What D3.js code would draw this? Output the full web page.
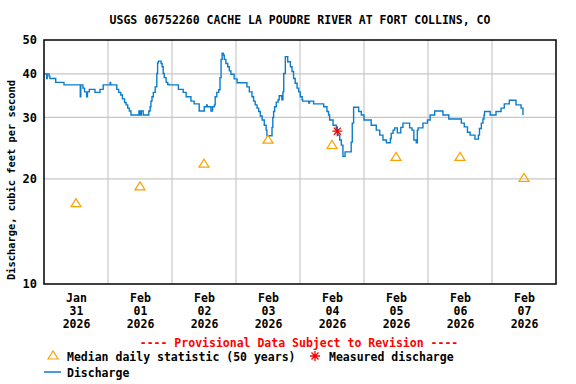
<!DOCTYPE html>
<html>
<head>
<meta charset="utf-8">
<script src="https://cdn.jsdelivr.net/npm/d3@7/dist/d3.min.js"></script>
<style>
  body { margin: 0; background: #fff; }
  svg text { font-family: "DejaVu Sans Mono", "Liberation Mono", monospace; font-weight: bold; }
</style>
</head>
<body>
<script>
// hours since 2026-01-31 00:00, step changes of the 15-minute discharge record
var flowHours = [0, 1.0, 1.2, 1.9, 2.2, 4.4, 7.5, 13.6, 13.8, 14.6, 15.2, 16.0, 16.3, 17.0, 19.1, 21.0, 22.2, 24.8, 25.0,
  27.3, 28.0, 28.8, 29.4, 30.2, 30.8, 31.4, 32.0, 32.6, 35.6, 36.0, 36.5, 37.2, 39.3, 39.8, 40.1, 40.5, 41.0, 41.7,
  42.3, 42.6, 42.9, 43.9, 44.3, 44.7, 45.1, 45.8, 46.4, 47.0, 50.4, 52.2, 53.3, 55.1, 56.3, 58.2, 60.1, 61.0, 61.2,
  62.6, 63.2, 63.9, 64.2, 64.8, 65.5, 66.0, 66.4, 66.8, 67.2, 67.6, 68.2, 68.9, 69.5, 70.1, 71.3, 72.4, 76.1, 77.0,
  78.0, 78.6, 79.2, 79.9, 80.5, 81.1, 81.8, 82.6, 83.3, 83.6, 85.5, 85.8, 86.1, 86.5, 87.1, 87.8, 88.2, 89.2, 89.6,
  89.9, 90.5, 91.4, 92.4, 93.0, 93.6, 94.2, 94.9, 95.5, 96.1, 96.8, 97.0, 99.3, 99.6, 101.1, 104.9, 106.1, 106.7,
  107.1, 108.4, 109.6, 110.3, 110.9, 111.5, 112.1, 112.9, 115.2, 115.6, 116.1, 118.0, 119.0, 120.0, 122.7, 124.6,
  125.9, 127.1, 128.4, 129.9, 130.2, 130.9, 131.5, 132.5, 133.8, 134.6, 137.1, 138.0, 138.7, 139.6, 140.0, 140.3,
  142.1, 143.8, 144.8, 146.5, 149.6, 151.8, 156.5, 157.6, 158.8, 159.8, 161.6, 162.9, 163.3, 164.0, 164.6, 165.0,
  165.2, 167.3, 169.5, 171.4, 172.6, 174.5, 177.0, 178.9, 179.6];
var flowCfs = [40.0, 38.8, 40.0, 39.4, 38.8, 37.8, 37.2, 34.4, 37.2, 36.4, 35.5, 34.4, 35.5, 36.1, 35.4, 36.1, 37.2, 37.8, 37.2,
  36.1, 35.4, 34.8, 33.9, 33.1, 32.6, 31.9, 31.3, 30.5, 31.3, 30.5, 31.3, 30.5, 31.3, 32.2, 33.4, 34.4, 35.4, 36.7,
  40.1, 43.0, 43.5, 42.8, 41.9, 40.1, 39.0, 37.8, 37.3, 37.2, 36.1, 35.4, 34.4, 33.4, 32.8, 31.3, 32.2, 32.6, 32.2,
  31.3, 32.2, 32.6, 34.4, 35.4, 36.0, 39.0, 44.0, 45.8, 45.3, 44.0, 42.8, 41.9, 40.8, 39.9, 38.7, 37.7, 36.7, 35.5,
  34.4, 33.4, 32.6, 31.9, 31.2, 30.3, 29.5, 28.5, 27.6, 26.6, 28.1, 30.0, 31.2, 32.2, 33.2, 33.7, 34.6, 33.7, 35.5,
  40.1, 44.8, 43.3, 41.9, 40.6, 38.8, 37.6, 36.4, 35.5, 34.4, 33.7, 33.4, 33.0, 33.4, 32.8, 32.2, 31.2, 30.5,
  29.5, 28.5, 27.6, 26.7, 25.85, 25.0, 23.2, 23.9, 25.5, 28.9, 32.1, 31.2, 30.5, 29.5, 28.5, 27.6,
  26.7, 25.85, 25.4, 26.1, 27.0, 27.6, 28.0, 27.1, 28.1, 28.9, 28.0, 27.6, 25.85, 25.4, 27.6, 28.0,
  28.9, 29.5, 30.5, 31.3, 30.5, 29.7, 28.9, 28.2, 27.2, 26.7, 26.0, 26.7, 27.9, 28.9, 29.7, 30.5,
  31.2, 30.5, 31.2, 31.9, 32.8, 33.6, 32.6, 31.9, 30.5];

// median daily statistic (50 years), one per day at noon
var medianDays = ["2026-01-31", "2026-02-01", "2026-02-02", "2026-02-03", "2026-02-04", "2026-02-05", "2026-02-06", "2026-02-07"];
var medianCfs = [17.1, 19.1, 22.2, 26.0, 25.1, 23.2, 23.2, 20.2];

// field measurement
var measuredHours = [110.0];
var measuredCfs = [27.4];

var yTicks = [10, 20, 30, 40, 50];
var yGrid = [20, 30, 40];
var titleText = "USGS 06752260 CACHE LA POUDRE RIVER AT FORT COLLINS, CO";
var yLabel = "Discharge, cubic feet per second";

var width = 576, height = 384;
var margin = { top: 40, right: 20, bottom: 100, left: 44 };
var start = Date.UTC(2026, 0, 31);

var svg = d3.select("body").append("svg")
  .attr("width", width)
  .attr("height", height);

var x = d3.scaleUtc()
  .domain([new Date(start), new Date(Date.UTC(2026, 1, 8))])
  .range([margin.left, width - margin.right]);

var y = d3.scaleLog()
  .domain([10, 50])
  .range([height - margin.bottom, margin.top]);

function hourDate(h) { return new Date(start + h * 3600e3); }

// grid
var days = d3.utcDay.range(x.domain()[0], x.domain()[1]).slice(1);
svg.append("g")
  .selectAll("line.vg")
  .data(days)
  .enter().append("line")
  .attr("x1", d => x(d)).attr("x2", d => x(d))
  .attr("y1", margin.top).attr("y2", height - margin.bottom)
  .attr("stroke", "#c8c8c8").attr("stroke-width", 1.2);

svg.append("g")
  .selectAll("line.hg")
  .data(yGrid)
  .enter().append("line")
  .attr("x1", margin.left).attr("x2", width - margin.right)
  .attr("y1", d => y(d)).attr("y2", d => y(d))
  .attr("stroke", "#c8c8c8").attr("stroke-width", 1.2);

// discharge line
var flow = flowHours.map((h, i) => ({ t: hourDate(h), v: flowCfs[i] }));
var line = d3.line()
  .x(d => x(d.t))
  .y(d => y(d.v))
  .curve(d3.curveStepAfter);

svg.append("path")
  .datum(flow)
  .attr("d", line)
  .attr("fill", "none")
  .attr("stroke", "#0a7ccc")
  .attr("stroke-width", 1.4);

// median triangles
function triPath(cx, cy) {
  return "M" + (cx - 5) + "," + (cy + 4) + "L" + cx + "," + (cy - 4) + "L" + (cx + 5) + "," + (cy + 4) + "Z";
}
svg.append("g")
  .selectAll("path")
  .data(medianDays.map((d, i) => ({ t: new Date(d + "T12:00:00Z"), v: medianCfs[i] })))
  .enter().append("path")
  .attr("d", d => triPath(x(d.t), y(d.v)))
  .attr("fill", "none")
  .attr("stroke", "#ffa000")
  .attr("stroke-width", 1.2);

// measured discharge asterisk
function starPath(cx, cy) {
  var r = 5, p = "";
  for (var k = 0; k < 4; k++) {
    var a = k * Math.PI / 4;
    p += "M" + (cx - r * Math.cos(a)) + "," + (cy - r * Math.sin(a)) + "L" + (cx + r * Math.cos(a)) + "," + (cy + r * Math.sin(a));
  }
  return p;
}
svg.append("g")
  .selectAll("path")
  .data(measuredHours.map((h, i) => ({ t: hourDate(h), v: measuredCfs[i] })))
  .enter().append("path")
  .attr("d", d => starPath(x(d.t), y(d.v)))
  .attr("stroke", "#ff0000")
  .attr("stroke-width", 1.3);

// frame
svg.append("rect")
  .attr("x", margin.left).attr("y", margin.top)
  .attr("width", width - margin.left - margin.right)
  .attr("height", height - margin.top - margin.bottom)
  .attr("fill", "none").attr("stroke", "#000").attr("stroke-width", 1.5);

// y axis
var yAxis = svg.append("g")
  .attr("transform", "translate(" + margin.left + ",0)")
  .call(d3.axisLeft(y).tickValues(yTicks).tickFormat(d3.format("d")).tickSize(0).tickPadding(7));
yAxis.select(".domain").remove();
yAxis.selectAll("text").attr("font-size", 12).attr("fill", "#000")
  .style("font-family", "DejaVu Sans Mono").style("font-weight", "bold");

// x axis labels at noon
var noons = medianDays.map(d => new Date(d + "T12:00:00Z"));
var fmtMon = d3.utcFormat("%b"), fmtDay = d3.utcFormat("%d"), fmtYr = d3.utcFormat("%Y");
var xAxis = svg.append("g")
  .attr("transform", "translate(0," + (height - margin.bottom) + ")")
  .call(d3.axisBottom(x).tickValues(noons).tickSize(0).tickFormat(""));
xAxis.select(".domain").remove();
xAxis.selectAll(".tick text").remove();
xAxis.selectAll(".tick").each(function(d) {
  var t = d3.select(this).append("text")
    .attr("fill", "#000")
    .attr("font-size", 11.5)
    .attr("text-anchor", "middle");
  [fmtMon(d), fmtDay(d), fmtYr(d)].forEach((s, i) => {
    t.append("tspan").attr("x", 0).attr("y", 18 + i * 13).text(s);
  });
});

// title
svg.append("text")
  .attr("x", (margin.left + width - margin.right) / 2)
  .attr("y", 24)
  .attr("text-anchor", "middle")
  .attr("font-size", 11.5)
  .text(titleText);

// y label
svg.append("text")
  .attr("transform", "translate(15,180) rotate(-90)")
  .attr("text-anchor", "middle")
  .attr("font-size", 10.4)
  .text(yLabel);

// provisional note
svg.append("text")
  .attr("x", 299)
  .attr("y", 347)
  .attr("text-anchor", "middle")
  .attr("font-size", 11.5)
  .attr("fill", "#ff0000")
  .text("---- Provisional Data Subject to Revision ----");

// legend
var lg = svg.append("g");
lg.append("path").attr("d", triPath(53, 355)).attr("fill", "none").attr("stroke", "#ffa000").attr("stroke-width", 1.2);
lg.append("text").attr("x", 67).attr("y", 361).attr("font-size", 11.5).text("Median daily statistic (50 years)");
lg.append("path").attr("d", starPath(315, 356)).attr("stroke", "#ff0000").attr("stroke-width", 1.3);
lg.append("text").attr("x", 329).attr("y", 361).attr("font-size", 11.5).text("Measured discharge");
lg.append("line").attr("x1", 44).attr("x2", 61).attr("y1", 372).attr("y2", 372).attr("stroke", "#0a7ccc").attr("stroke-width", 1.5);
lg.append("text").attr("x", 67).attr("y", 377).attr("font-size", 11.5).text("Discharge");
</script>
</body>
</html>
